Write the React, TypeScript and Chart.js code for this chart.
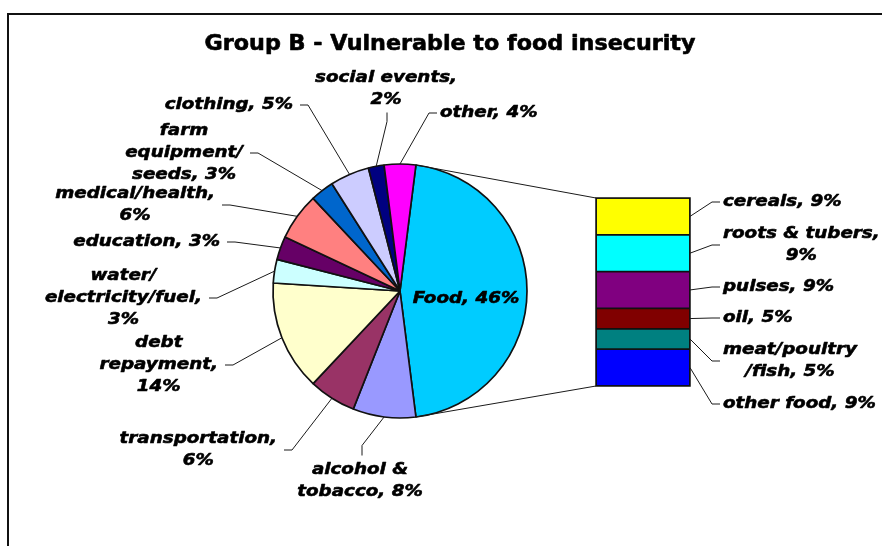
import React, { useEffect, useRef } from 'react';
import { Chart, registerables } from 'chart.js';

Chart.register(...registerables);

// ---- data -----------------------------------------------------------------

const TITLE = 'Group B - Vulnerable to food insecurity';

// Household spending shares (%), clockwise starting with Food
const spendCategories = [
  'Food',
  'alcohol &\ntobacco',
  'transportation',
  'debt\nrepayment',
  'water/\nelectricity/fuel',
  'education',
  'medical/health',
  'farm\nequipment/\nseeds',
  'clothing',
  'social events',
  'other',
];
const spendShares = [46, 8, 6, 14, 3, 3, 6, 3, 5, 2, 4];
const spendColors = [
  '#00CCFF',
  '#9999FF',
  '#993366',
  '#FFFFCC',
  '#CCFFFF',
  '#660066',
  '#FF8080',
  '#0066CC',
  '#CCCCFF',
  '#000080',
  '#FF00FF',
];

// Breakdown of the Food share (%), top to bottom
const foodCategories = ['cereals', 'roots & tubers', 'pulses', 'oil', 'meat/poultry\n/fish', 'other food'];
const foodShares = [9, 9, 9, 5, 5, 9];
const foodColors = ['#FFFF00', '#00FFFF', '#800080', '#800000', '#008080', '#0000FF'];

// ---- layout ---------------------------------------------------------------

const W = 900;
const H = 546;

type Side = 'inside' | 'left' | 'right' | 'above' | 'below';
interface LabelSpot {
  side: Side;
  x: number; // left: block right edge, right: block left edge, otherwise block centre
  y: number; // block vertical centre
  wrapValue: boolean; // put the percentage on its own line
}

const pieLabelSpots: LabelSpot[] = [
  { side: 'inside', x: 466, y: 299, wrapValue: false },
  { side: 'below', x: 360, y: 481.5, wrapValue: false },
  { side: 'left', x: 277, y: 450, wrapValue: true },
  { side: 'left', x: 218, y: 365, wrapValue: true },
  { side: 'left', x: 202, y: 298, wrapValue: true },
  { side: 'left', x: 220, y: 242, wrapValue: false },
  { side: 'left', x: 215, y: 205, wrapValue: true },
  { side: 'left', x: 243, y: 153, wrapValue: false },
  { side: 'left', x: 293, y: 105, wrapValue: false },
  { side: 'above', x: 386, y: 89.5, wrapValue: true },
  { side: 'right', x: 440, y: 113, wrapValue: false },
];

const barLabelSpots: LabelSpot[] = [
  { side: 'right', x: 723, y: 202, wrapValue: false },
  { side: 'right', x: 723, y: 245, wrapValue: true },
  { side: 'right', x: 723, y: 287, wrapValue: false },
  { side: 'right', x: 723, y: 318, wrapValue: false },
  { side: 'right', x: 723, y: 361, wrapValue: false },
  { side: 'right', x: 723, y: 404, wrapValue: false },
];

const LABEL_FONT = 'italic bold 15px "DejaVu Sans"';
const LABEL_SCALE_X = 1.22;
const LINE_H = 22;
const TITLE_FONT = 'bold 20.5px "DejaVu Sans"';
const TITLE_SCALE_X = 1.085;
const INK = '#000000';
const LEADER = '#1a1a1a';
const EDGE = '#111111';

// ---- drawing helpers ------------------------------------------------------

function labelLines(name: string, value: number, wrapValue: boolean): string[] {
  const text = wrapValue ? `${name},\n${value}%` : `${name}, ${value}%`;
  return text.split('\n');
}

// Text drawn slightly widened and with a thin outline for a heavier face
function drawScaledText(
  ctx: CanvasRenderingContext2D,
  text: string,
  x: number,
  y: number,
  sx: number,
  weight: number,
) {
  ctx.save();
  ctx.translate(x, y);
  ctx.scale(sx, 1);
  ctx.textAlign = 'center';
  ctx.textBaseline = 'middle';
  ctx.fillText(text, 0, 0);
  if (weight > 0) {
    ctx.lineWidth = weight;
    ctx.lineJoin = 'round';
    ctx.strokeStyle = ctx.fillStyle as string;
    ctx.strokeText(text, 0, 0);
  }
  ctx.restore();
}

function drawLabel(
  ctx: CanvasRenderingContext2D,
  lines: string[],
  spot: LabelSpot,
  from: { x: number; y: number } | null,
) {
  ctx.save();
  ctx.font = LABEL_FONT;
  const widths = lines.map((l) => ctx.measureText(l).width * LABEL_SCALE_X);
  const blockW = Math.max(...widths);
  const n = lines.length;
  let cx = spot.x;
  if (spot.side === 'left') cx = spot.x - blockW / 2;
  if (spot.side === 'right') cx = spot.x + blockW / 2;

  ctx.fillStyle = INK;
  lines.forEach((line, i) => {
    const ly = spot.y + (i - (n - 1) / 2) * LINE_H;
    drawScaledText(ctx, line, cx, ly, LABEL_SCALE_X, 0.55);
  });

  if (from && spot.side !== 'inside') {
    let attach = { x: 0, y: 0 };
    let elbow = { x: 0, y: 0 };
    if (spot.side === 'left') {
      attach = { x: spot.x + 7, y: spot.y };
      elbow = { x: attach.x + 8, y: spot.y };
    } else if (spot.side === 'right') {
      attach = { x: spot.x - 3, y: spot.y };
      elbow = { x: attach.x - 8, y: spot.y };
    } else if (spot.side === 'above') {
      attach = { x: cx + 1, y: spot.y + ((n - 1) / 2) * LINE_H + 12 };
      elbow = { x: attach.x, y: attach.y + 9 };
    } else {
      attach = { x: cx + 2, y: spot.y - ((n - 1) / 2) * LINE_H - 15 };
      elbow = { x: attach.x, y: attach.y - 10 };
    }
    ctx.strokeStyle = LEADER;
    ctx.lineWidth = 1;
    ctx.beginPath();
    ctx.moveTo(from.x, from.y);
    ctx.lineTo(elbow.x, elbow.y);
    ctx.lineTo(attach.x, attach.y);
    ctx.stroke();
  }
  ctx.restore();
}

// ---- plugins --------------------------------------------------------------

const pieDecorations = {
  id: 'pieDecorations',
  afterDraw(chart: Chart) {
    const ctx = chart.ctx;
    // title
    ctx.save();
    ctx.font = TITLE_FONT;
    ctx.fillStyle = INK;
    drawScaledText(ctx, TITLE, 450, 45, TITLE_SCALE_X, 0.6);
    ctx.restore();

    const meta = chart.getDatasetMeta(0);
    meta.data.forEach((el: any, i: number) => {
      const { x, y, startAngle, endAngle, outerRadius } = el.getProps(
        ['x', 'y', 'startAngle', 'endAngle', 'outerRadius'],
        true,
      );
      const mid = (startAngle + endAngle) / 2;
      const edge = { x: x + outerRadius * Math.cos(mid), y: y + outerRadius * Math.sin(mid) };
      const spot = pieLabelSpots[i];
      drawLabel(ctx, labelLines(spendCategories[i], spendShares[i], spot.wrapValue), spot, edge);
    });
  },
};

function makeBarDecorations(pie: Chart) {
  return {
    id: 'barDecorations',
    afterDraw(chart: Chart) {
      const ctx = chart.ctx;
      const n = foodCategories.length;
      // dataset k holds category n-1-k (stack is built bottom-up)
      const segment = (i: number) => {
        const el: any = chart.getDatasetMeta(n - 1 - i).data[0];
        const p = el.getProps(['x', 'y', 'base', 'width'], true);
        return {
          left: p.x - p.width / 2,
          right: p.x + p.width / 2,
          top: Math.min(p.y, p.base),
          bottom: Math.max(p.y, p.base),
        };
      };

      const topSeg = segment(0);
      const botSeg = segment(n - 1);

      // outline around the whole breakdown column
      ctx.save();
      ctx.strokeStyle = EDGE;
      ctx.lineWidth = 1.5;
      ctx.strokeRect(topSeg.left, topSeg.top, topSeg.right - topSeg.left, botSeg.bottom - topSeg.top);
      ctx.restore();

      // connector lines from the Food slice to the breakdown column
      const food: any = pie.getDatasetMeta(0).data[0];
      const f = food.getProps(['x', 'y', 'startAngle', 'endAngle', 'outerRadius'], true);
      ctx.save();
      ctx.strokeStyle = LEADER;
      ctx.lineWidth = 1;
      ctx.beginPath();
      ctx.moveTo(f.x + f.outerRadius * Math.cos(f.startAngle), f.y + f.outerRadius * Math.sin(f.startAngle));
      ctx.lineTo(topSeg.left, topSeg.top);
      ctx.moveTo(f.x + f.outerRadius * Math.cos(f.endAngle), f.y + f.outerRadius * Math.sin(f.endAngle));
      ctx.lineTo(botSeg.left, botSeg.bottom);
      ctx.stroke();
      ctx.restore();

      foodCategories.forEach((name, i) => {
        const s = segment(i);
        const spot = barLabelSpots[i];
        drawLabel(ctx, labelLines(name, foodShares[i], spot.wrapValue), spot, {
          x: s.right,
          y: (s.top + s.bottom) / 2,
        });
      });
    },
  };
}

// ---- component ------------------------------------------------------------

export default function App() {
  const pieRef = useRef<HTMLCanvasElement>(null);
  const barRef = useRef<HTMLCanvasElement>(null);

  useEffect(() => {
    if (!pieRef.current || !barRef.current) return;
    const spendTotal = spendShares.reduce((a, b) => a + b, 0);
    const foodTotal = foodShares.reduce((a, b) => a + b, 0);

    const pie = new Chart(pieRef.current, {
      type: 'pie',
      data: {
        labels: spendCategories,
        datasets: [
          {
            data: spendShares,
            backgroundColor: spendColors,
            borderColor: EDGE,
            borderWidth: 1.7,
          },
        ],
      },
      options: {
        responsive: false,
        animation: false,
        events: [],
        devicePixelRatio: 1,
        // keep the Food slice centred on the right-hand side
        rotation: 90 - (spendShares[0] / spendTotal) * 180,
        radius: 127,
        layout: { padding: { left: 273, right: W - 527, top: 164, bottom: H - 418 } },
        plugins: { legend: { display: false }, tooltip: { enabled: false }, title: { display: false } },
      },
      plugins: [pieDecorations],
    });

    const order = foodCategories.map((_, i) => i).reverse();
    const bar = new Chart(barRef.current, {
      type: 'bar',
      data: {
        labels: ['Food'],
        datasets: order.map((i) => ({
          label: foodCategories[i],
          data: [foodShares[i]],
          backgroundColor: foodColors[i],
          borderColor: EDGE,
          borderWidth: 1.2,
          borderSkipped: false,
          barPercentage: 1,
          categoryPercentage: 1,
        })),
      },
      options: {
        responsive: false,
        animation: false,
        events: [],
        devicePixelRatio: 1,
        layout: { padding: { left: 596, right: W - 690, top: 198, bottom: H - 386 } },
        scales: {
          x: { display: false, stacked: true },
          y: { display: false, stacked: true, min: 0, max: foodTotal },
        },
        plugins: { legend: { display: false }, tooltip: { enabled: false }, title: { display: false } },
      },
      plugins: [makeBarDecorations(pie)],
    });

    return () => {
      bar.destroy();
      pie.destroy();
    };
  }, []);

  return (
    <div
      style={{
        position: 'fixed',
        left: 0,
        top: 0,
        width: 882,
        height: 546,
        overflow: 'hidden',
        background: '#ffffff',
      }}
    >
      <div
        style={{
          position: 'absolute',
          left: 7,
          top: 13,
          width: 1000,
          height: 1000,
          border: '2px solid #111111',
          boxSizing: 'border-box',
        }}
      />
      <canvas ref={pieRef} width={W} height={H} style={{ position: 'absolute', left: 0, top: 0, width: W, height: H }} />
      <canvas ref={barRef} width={W} height={H} style={{ position: 'absolute', left: 0, top: 0, width: W, height: H }} />
    </div>
  );
}
